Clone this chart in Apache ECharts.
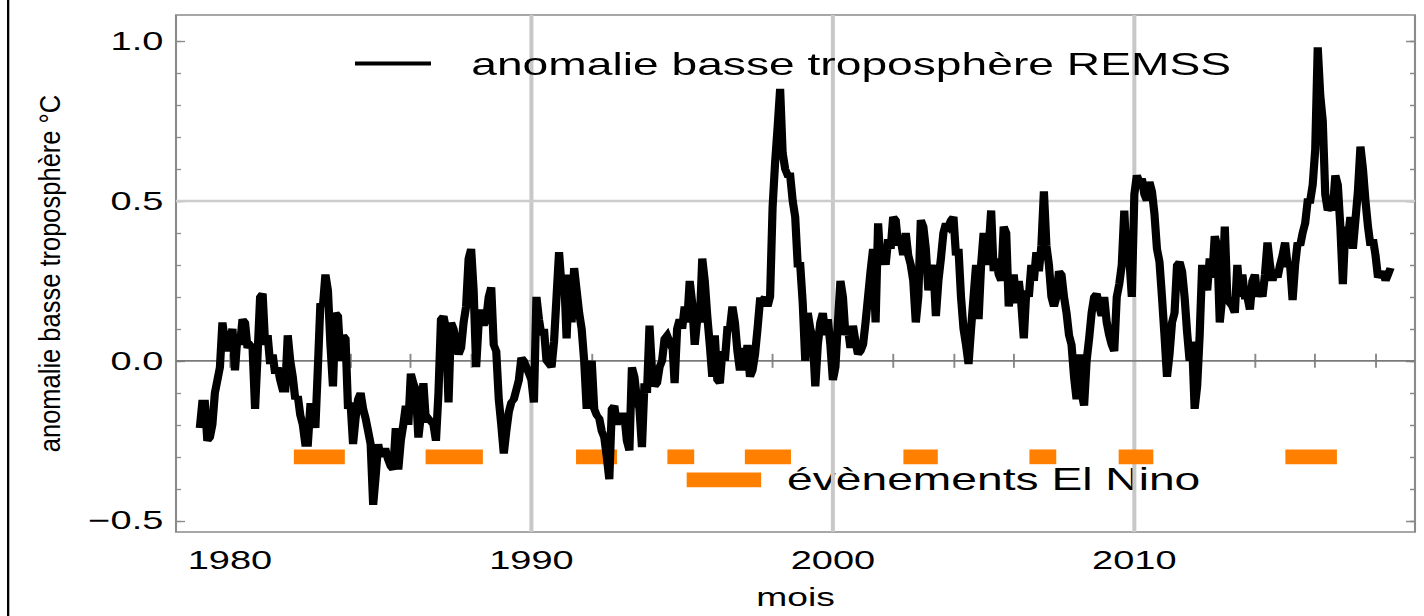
<!DOCTYPE html>
<html><head><meta charset="utf-8">
<script src="https://cdn.jsdelivr.net/npm/echarts@6/dist/echarts.min.js"></script>
<style>
html,body{margin:0;padding:0;background:#fff;overflow:hidden;width:1424px;height:616px;}
#chart{position:absolute;left:0;top:0;height:616px;transform-origin:0 0;}
</style></head><body><div id="chart"></div>
<script>
// ---- data (monthly anomalies, °C), first month = Jan 1979 ----
const startYear = 1979;
const anom1979to1988 = [
 -0.21,-0.13,-0.13,-0.25,-0.24,-0.20,-0.10,-0.06,-0.02,0.12,0.06,0.03,
 0.07,0.10,-0.03,0.08,0.05,0.13,0.12,0.04,0.05,0.04,-0.15,0.02,
 0.20,0.21,0.05,0.08,-0.01,0.02,-0.04,-0.02,-0.06,-0.09,-0.09,0.08,
 0.00,-0.05,-0.12,-0.11,-0.17,-0.20,-0.26,-0.26,-0.14,-0.14,-0.21,-0.02,
 0.18,0.17,0.27,0.22,0.05,-0.08,0.15,0.14,0.00,0.08,0.07,-0.15,
 -0.13,-0.26,-0.18,-0.12,-0.10,-0.15,-0.18,-0.22,-0.26,-0.45,-0.36,-0.26,
 -0.30,-0.28,-0.28,-0.31,-0.33,-0.34,-0.21,-0.34,-0.25,-0.20,-0.14,-0.20,
 -0.04,-0.07,-0.09,-0.24,-0.17,-0.07,-0.19,-0.18,-0.19,-0.20,-0.25,-0.10,
 0.13,0.14,0.10,-0.13,0.12,0.10,0.05,0.02,0.04,0.12,0.17,0.32,
 0.35,0.22,-0.02,0.12,0.16,0.11,0.13,0.20,0.23,0.05,0.03,-0.12
];
const anom1989to1998 = [
 -0.20,-0.29,-0.22,-0.16,-0.13,-0.12,-0.09,-0.06,0.01,0.00,-0.02,-0.04,
 -0.06,-0.13,0.20,0.13,0.08,0.10,0.00,-0.01,-0.02,0.06,0.20,0.34,
 0.23,0.27,0.07,0.27,0.12,0.29,0.22,0.15,0.10,0.00,-0.15,-0.02,
 0.00,-0.15,-0.17,-0.18,-0.22,-0.24,-0.30,-0.37,-0.15,-0.14,-0.20,-0.17,
 -0.17,-0.17,-0.25,-0.28,-0.02,-0.05,-0.12,-0.15,-0.27,-0.07,-0.10,0.11,
 -0.03,-0.08,-0.07,-0.02,0.00,0.07,0.08,0.06,0.07,-0.07,0.10,0.13,
 0.10,0.17,0.12,0.25,0.18,0.05,0.13,0.12,0.32,0.25,0.14,0.05,
 -0.05,0.08,-0.06,-0.07,0.03,0.00,0.10,0.10,0.17,0.12,0.03,-0.03,
 0.04,-0.03,0.05,-0.05,-0.03,0.02,0.10,0.19,0.19,0.20,0.17,0.20,
 0.48,0.62,0.73,0.85,0.65,0.60,0.58,0.58,0.50,0.45,0.30,0.30
];
const anom1999to2008 = [
 0.18,0.00,0.15,0.10,0.07,-0.08,0.05,0.12,0.15,0.08,0.13,0.05,
 -0.06,-0.02,0.12,0.25,0.20,0.08,0.10,0.04,0.11,0.06,0.02,0.03,
 0.05,0.12,0.20,0.28,0.35,0.12,0.43,0.30,0.35,0.30,0.38,0.35,
 0.45,0.44,0.36,0.38,0.33,0.40,0.33,0.30,0.25,0.12,0.20,0.44,
 0.42,0.35,0.22,0.28,0.30,0.14,0.25,0.32,0.40,0.43,0.42,0.44,
 0.45,0.33,0.35,0.20,0.10,0.05,-0.01,0.10,0.20,0.30,0.13,0.30,
 0.40,0.30,0.35,0.47,0.28,0.32,0.27,0.25,0.42,0.40,0.17,0.22,
 0.27,0.18,0.25,0.18,0.07,0.22,0.20,0.30,0.25,0.34,0.28,0.36,
 0.53,0.36,0.30,0.20,0.17,0.20,0.28,0.27,0.20,0.15,0.08,0.05,
 -0.05,-0.12,0.02,-0.10,-0.14,0.00,0.07,0.15,0.20,0.21,0.17,0.14
];
const anom2009to2018 = [
 0.20,0.12,0.08,0.05,0.03,0.20,0.24,0.30,0.47,0.30,0.32,0.20,
 0.52,0.58,0.56,0.57,0.52,0.50,0.56,0.53,0.46,0.35,0.31,0.20,
 0.08,-0.05,0.02,0.12,0.15,0.30,0.31,0.28,0.20,0.09,0.00,0.06,
 -0.15,-0.08,0.08,0.30,0.25,0.22,0.32,0.26,0.39,0.36,0.12,0.20,
 0.42,0.20,0.18,0.17,0.15,0.30,0.20,0.27,0.20,0.20,0.16,0.25,
 0.27,0.20,0.22,0.20,0.27,0.37,0.30,0.25,0.28,0.26,0.30,0.33,
 0.37,0.30,0.30,0.19,0.30,0.37,0.36,0.40,0.43,0.50,0.50,0.55,
 0.66,0.98,0.83,0.75,0.52,0.47,0.48,0.47,0.58,0.55,0.42,0.24,
 0.42,0.38,0.45,0.35,0.44,0.53,0.67,0.60,0.50,0.42,0.36,0.38,
 0.33,0.26,0.27,0.28,0.25,0.27,0.29
];
// El Niño events (decimal years) and the row (°C level) on which each bar sits
const elNinoStart = [1982.12, 1986.49, 1991.48, 1994.51, 1997.08, 2002.34, 2006.52, 2009.48, 2015.01, 1995.15];
const elNinoEnd   = [1983.81, 1988.39, 1992.84, 1995.40, 1998.61, 2003.48, 2007.41, 2010.63, 2016.72, 1997.62];
const elNinoLevel = [-0.300, -0.300, -0.300, -0.300, -0.300, -0.300, -0.300, -0.300, -0.300, -0.372];
const elNinoHalfHeight = 0.023;
// axes
const xRange = [1978.21, 2019.31];
const yRange = [-0.535, 1.081];
const xTickValues = [1980,1982,1984,1986,1988,1990,1992,1994,1996,1998,2000,2002,2004,2006,2008,2010,2012,2014,2016,2018];
const xLabelValues = [1980, 1990, 2000, 2010];
const yMajorValues = [-0.5, 0, 0.5, 1.0];
const yMajorLabels = ['\u22120.5', '0.0', '0.5', '1.0'];
const yMinorValues = [-0.5,-0.4,-0.3,-0.2,-0.1,0,0.1,0.2,0.3,0.4,0.5,0.6,0.7,0.8,0.9,1.0];
const xGridYears = [1990, 2000, 2010];
const yGridValues = [0.5];
const seriesName = 'anomalie basse troposphère REMSS';
const elNinoText = 'évènements El Nino';
const yName = 'anomalie basse troposphère °C';
const xName = 'mois';

// ---- layout: whole figure is horizontally stretched like the reference ----
const S = 1.49;
const W = 1424 / S;
const dom = document.getElementById('chart');
dom.style.width = W + 'px';
dom.style.transform = 'scaleX(' + S + ')';
const sx = v => v / S; // screen px -> css px (horizontal)

const anomalies = anom1979to1988.concat(anom1989to1998, anom1999to2008, anom2009to2018);
const lineData = anomalies.map((v, i) => [startYear + i / 12, v]);
const elNinoData = elNinoStart.map((s, i) => [s, elNinoEnd[i], elNinoLevel[i]]);

const FONT = 'Liberation Sans, Arial, sans-serif';
const tickColor = '#8a8a8a';

function yLabel(v) {
  for (let i = 0; i < yMajorValues.length; i++) if (Math.abs(yMajorValues[i] - v) < 1e-6) return yMajorLabels[i];
  return '';
}

const helperSeries = [];
xGridYears.forEach(yr => helperSeries.push({
  type: 'line', silent: true, symbol: 'none', z: 1, animation: false,
  lineStyle: { color: '#c8c8c8', width: 2.7 }, data: [[yr, yRange[0]], [yr, yRange[1]]]
}));
yGridValues.forEach(v => helperSeries.push({
  type: 'line', silent: true, symbol: 'none', z: 1, animation: false,
  lineStyle: { color: '#cccccc', width: 2.5 }, data: [[xRange[0], v], [xRange[1], v]]
}));
helperSeries.push({
  type: 'line', silent: true, symbol: 'none', z: 1, animation: false,
  lineStyle: { color: '#7a7a7a', width: 1.7 }, data: [[xRange[0], 0], [xRange[1], 0]]
});

const chart = echarts.init(dom, null, { renderer: 'svg', width: W, height: 616 });

const hiddenAxisBits = { axisLine: { show: false }, splitLine: { show: false } };

chart.setOption({
  animation: false,
  backgroundColor: '#fff',
  grid: { left: sx(176), right: sx(9), top: 15, bottom: 84, show: true, borderColor: '#8a8a8a', borderWidth: 1.4, backgroundColor: 'transparent' },
  legend: {
    data: [{ name: seriesName, icon: 'rect' }],
    left: sx(355), top: 48, padding: 0,
    itemWidth: sx(76), itemHeight: 4,
    textStyle: { fontFamily: FONT, fontSize: 31, color: '#000', padding: [0, 0, 0, 22] },
    selectedMode: false
  },
  xAxis: [
    Object.assign({
      type: 'value', min: xRange[0], max: xRange[1], position: 'bottom',
      name: xName, nameLocation: 'middle', nameGap: 53,
      nameTextStyle: { fontFamily: FONT, fontSize: 25, color: '#000' },
      axisTick: { show: true, inside: true, length: 7, customValues: xTickValues, lineStyle: { color: tickColor, width: 1.3 } },
      axisLabel: { show: true, margin: 15, customValues: xLabelValues, formatter: v => String(Math.round(v)), fontFamily: FONT, fontSize: 25.5, color: '#000' }
    }, hiddenAxisBits),
    Object.assign({
      type: 'value', min: xRange[0], max: xRange[1], position: 'top',
      axisTick: { show: true, inside: true, length: 7, customValues: xTickValues, lineStyle: { color: tickColor, width: 1.3 } },
      axisLabel: { show: false }
    }, hiddenAxisBits)
  ],
  yAxis: [
    Object.assign({
      type: 'value', min: yRange[0], max: yRange[1], position: 'left',
      axisTick: { show: true, inside: true, length: sx(9), customValues: yMajorValues, lineStyle: { color: tickColor, width: 1.3 } },
      axisLabel: { show: true, margin: 8.5, customValues: yMajorValues, formatter: yLabel, fontFamily: FONT, fontSize: 25.5, color: '#000' }
    }, hiddenAxisBits),
    Object.assign({
      type: 'value', min: yRange[0], max: yRange[1], position: 'left',
      axisTick: { show: true, inside: true, length: sx(5), customValues: yMinorValues, lineStyle: { color: tickColor, width: 1.3 } },
      axisLabel: { show: false }
    }, hiddenAxisBits),
    Object.assign({
      type: 'value', min: yRange[0], max: yRange[1], position: 'right',
      axisTick: { show: true, inside: true, length: sx(9), customValues: yMajorValues, lineStyle: { color: tickColor, width: 1.3 } },
      axisLabel: { show: false }
    }, hiddenAxisBits),
    Object.assign({
      type: 'value', min: yRange[0], max: yRange[1], position: 'right',
      axisTick: { show: true, inside: true, length: sx(5), customValues: yMinorValues, lineStyle: { color: tickColor, width: 1.3 } },
      axisLabel: { show: false }
    }, hiddenAxisBits)
  ],
  series: helperSeries.concat([
    {
      type: 'custom', name: 'El Nino', z: 2, silent: true,
      data: elNinoData,
      encode: { x: [0, 1], y: 2 },
      renderItem: function (params, api) {
        const s = api.value(0), e = api.value(1), c = api.value(2);
        const p1 = api.coord([s, c + elNinoHalfHeight]);
        const p2 = api.coord([e, c - elNinoHalfHeight]);
        return { type: 'rect', shape: { x: p1[0], y: p1[1], width: p2[0] - p1[0], height: p2[1] - p1[1] }, style: { fill: '#ff8000' } };
      }
    },
    {
      type: 'line', name: seriesName, z: 3, showSymbol: false, symbol: 'none',
      data: lineData, color: '#000',
      lineStyle: { color: '#000', width: 5.5, join: 'miter', miterLimit: 3 }
    }
  ]),
  graphic: [
    { type: 'rect', shape: { x: sx(7), y: 0, width: sx(2.3), height: 616 }, style: { fill: '#000' }, silent: true },
    { type: 'text', x: sx(787), y: 479, silent: true,
      style: { text: elNinoText, fontFamily: FONT, fontSize: 31, fill: '#000', align: 'left', verticalAlign: 'middle' } },
    { type: 'text', x: sx(50), y: 273.5, rotation: Math.PI / 2, scaleY: 1.15 / S, silent: true,
      style: { text: yName, fontFamily: FONT, fontSize: 25.5, fill: '#000', align: 'center', verticalAlign: 'middle' } }
  ]
});
</script></body></html>
